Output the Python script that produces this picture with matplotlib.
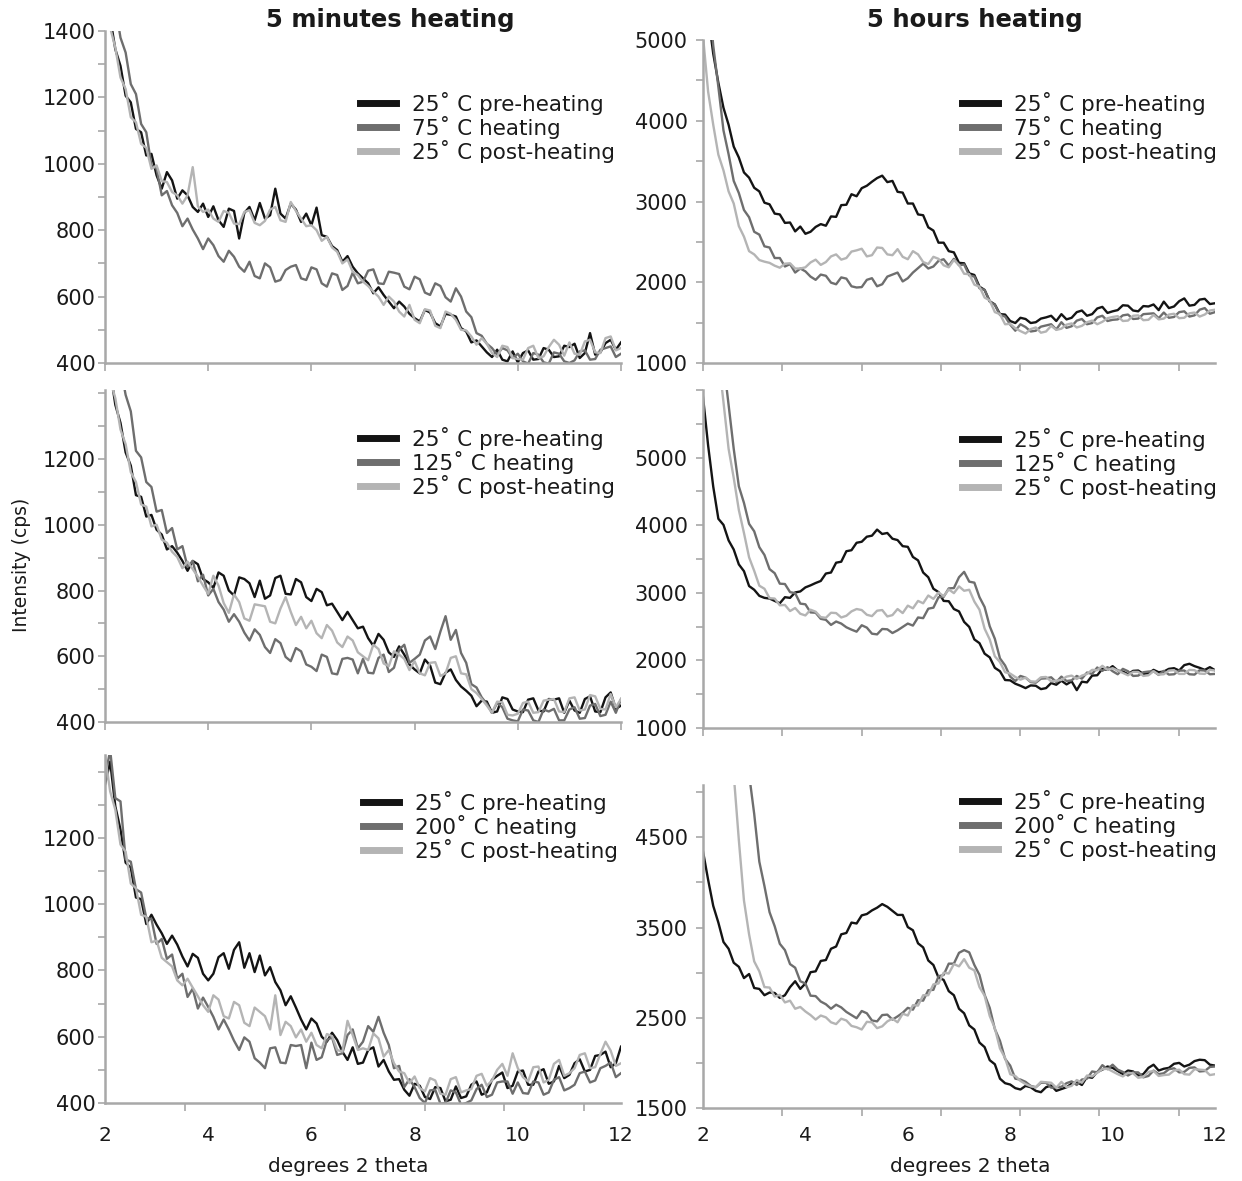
import matplotlib.pyplot as plt
import numpy as np

plt.rcParams['font.family'] = ['DejaVu Sans']

# scan positions (degrees 2 theta), 0.1 step
two_theta = np.linspace(2, 12, 101)

heat_temps = [75, 125, 200]
line_colors = ['#141414', '#6e6e6e', '#b4b4b4']

# ---- 5 minutes heating ----
min5_75_pre = [
    1560, 1440, 1345, 1295, 1205, 1185, 1105, 1095, 1025, 1030,
    965, 925, 975, 950, 895, 920, 905, 870, 855, 880,
    840, 872, 830, 810, 865, 858, 775, 852, 870, 830,
    882, 835, 845, 925, 850, 835, 880, 862, 825, 850,
    815, 868, 785, 780, 752, 740, 705, 722, 690, 670,
    655, 640, 610, 628, 605, 585, 565, 585, 570, 548,
    535, 525, 560, 552, 520, 510, 548, 545, 540, 505,
    495, 462, 468, 450, 432, 418, 440, 410, 405, 435,
    402, 430, 438, 410, 412, 445, 440, 418, 420, 452,
    448, 458, 415, 430, 490, 425, 432, 460, 470, 440,
    462]
min5_75_heat = [
    1650, 1545, 1475, 1380, 1335, 1240, 1210, 1120, 1095, 995,
    985, 905, 918, 875, 852, 812, 835, 802, 775, 743,
    775, 755, 722, 705, 738, 720, 690, 675, 705, 662,
    655, 700, 688, 645, 650, 680, 690, 695, 655, 650,
    688, 682, 640, 630, 670, 665, 620, 632, 672, 640,
    645, 678, 682, 640, 638, 675, 672, 668, 630, 622,
    660, 652, 612, 605, 640, 632, 598, 585, 625, 600,
    555, 538, 490, 482, 458, 445, 425, 445, 438, 415,
    428, 405, 398, 430, 425, 402, 398, 432, 428, 405,
    400, 408, 435, 438, 410, 412, 440, 445, 450, 418,
    428]
min5_75_post = [
    1520, 1410, 1350, 1260, 1225, 1140, 1125, 1060, 1048, 985,
    995, 948, 945, 915, 905, 880, 905, 990, 872, 855,
    862, 835, 825, 858, 852, 820, 818, 855, 860, 822,
    815, 828, 862, 870, 830, 825, 885, 858, 835, 812,
    815, 800, 768, 780, 748, 735, 700, 712, 675, 665,
    645, 632, 615, 600, 575, 600, 585, 555, 540, 575,
    530, 520, 562, 558, 512, 505, 555, 548, 530, 500,
    498, 480, 455, 475, 458, 430, 418, 452, 448, 415,
    412, 410, 445, 452, 415, 420, 448, 470, 455, 422,
    462, 428, 425, 465, 470, 432, 430, 475, 480, 438,
    445]

min5_125_pre = [
    1560, 1470, 1365, 1310, 1220, 1180, 1090, 1085, 1025, 1030,
    985, 970, 925, 935, 915, 890, 860, 890, 880, 835,
    825, 808, 855, 845, 800, 785, 840, 835, 822, 780,
    830, 775, 785, 838, 845, 790, 788, 835, 825, 780,
    768, 805, 795, 755, 760, 735, 710, 735, 710, 685,
    690, 655, 632, 668, 650, 612, 598, 630, 605, 575,
    560, 548, 590, 572, 520, 515, 550, 560, 528, 508,
    495, 480, 448, 465, 462, 428, 432, 475, 470, 438,
    432, 430, 468, 472, 435, 432, 470, 468, 472, 428,
    465, 435, 428, 470, 478, 432, 430, 475, 490, 440,
    450]
min5_125_heat = [
    1700, 1630, 1530, 1480, 1395, 1345, 1225, 1205, 1130, 1115,
    1040, 1045, 975, 990, 925, 935, 872, 890, 828, 848,
    785, 805, 765, 742, 705, 728, 705, 672, 648, 682,
    665, 628, 610, 652, 640, 598, 585, 625, 615, 575,
    568, 555, 605, 598, 548, 545, 592, 595, 590, 548,
    592, 550, 548, 595, 605, 552, 565, 620, 635, 580,
    592, 605, 648, 660, 622, 675, 722, 650, 680, 610,
    580, 515, 505, 475, 455, 428, 458, 445, 410, 405,
    402, 438, 435, 405, 400, 438, 432, 440, 405, 405,
    438, 445, 410, 412, 450, 455, 418, 422, 462, 428,
    470]
min5_125_post = [
    1540, 1440, 1385, 1290, 1245, 1160, 1130, 1062, 1055, 995,
    1000, 955, 945, 918, 902, 868, 888, 865, 842, 815,
    790, 845, 815, 762, 732, 788, 765, 715, 708, 758,
    755, 752, 705, 700, 745, 780, 735, 695, 720, 685,
    708, 670, 655, 695, 678, 642, 628, 660, 648, 612,
    600, 588, 635, 622, 578, 570, 615, 605, 592, 558,
    585, 548, 542, 580, 582, 540, 548, 595, 600, 548,
    545, 500, 488, 470, 450, 428, 462, 460, 422, 420,
    425, 458, 462, 428, 430, 465, 468, 470, 432, 430,
    472, 475, 435, 438, 482, 478, 440, 438, 485, 445,
    470]

min5_200_pre = [
    1360, 1430, 1295, 1225, 1125, 1110, 1020, 1015, 940, 968,
    938, 912, 880, 905, 878, 842, 812, 850, 838, 790,
    770, 790, 840, 852, 805, 862, 885, 808, 852, 795,
    845, 785, 810, 765, 740, 695, 722, 688, 652, 622,
    655, 640, 600, 585, 612, 590, 555, 530, 568, 518,
    522, 560, 568, 510, 530, 495, 470, 472, 440, 422,
    458, 452, 418, 412, 448, 445, 405, 410, 450, 415,
    420, 455, 465, 425, 432, 470, 482, 492, 445, 452,
    495, 498, 455, 455, 495, 502, 458, 465, 512, 475,
    485, 520, 532, 495, 500, 542, 545, 555, 508, 520,
    570]
min5_200_heat = [
    1380, 1465, 1320, 1310, 1135, 1128, 1045, 1035, 958, 955,
    880, 895, 835, 848, 775, 790, 720, 745, 685, 718,
    690, 660, 622, 652, 622, 588, 560, 598, 585, 535,
    522, 505, 565, 568, 522, 520, 575, 572, 575, 505,
    582, 530, 538, 590, 598, 545, 550, 605, 622, 565,
    585, 632, 615, 660, 612, 575, 505, 512, 448, 472,
    448, 415, 400, 438, 440, 398, 400, 438, 432, 395,
    400, 408, 442, 455, 418, 425, 462, 465, 465, 428,
    462, 430, 428, 465, 462, 425, 432, 470, 478, 438,
    445, 455, 490, 495, 462, 468, 505, 512, 522, 478,
    490]
min5_200_post = [
    1450, 1340, 1285, 1180, 1158, 1062, 1048, 968, 962, 885,
    890, 838, 825, 812, 770, 755, 775, 748, 722, 695,
    675, 725, 712, 662, 655, 705, 695, 642, 632, 688,
    675, 662, 622, 725, 605, 645, 632, 598, 622, 585,
    612, 575, 565, 608, 602, 560, 555, 648, 605, 560,
    565, 560, 610, 595, 540, 560, 520, 495, 490, 460,
    480, 445, 435, 475, 468, 428, 425, 472, 478, 432,
    438, 442, 482, 488, 452, 468, 500, 518, 482, 550,
    505, 478, 465, 508, 510, 462, 470, 518, 530, 482,
    490, 505, 545, 550, 505, 508, 548, 585, 558, 512,
    520]

# ---- 5 hours heating ----
hr5_75_pre = [
    6200, 5320, 4830, 4470, 4160, 3950, 3680, 3545, 3360, 3295,
    3170, 3125, 2985, 2965, 2850, 2840, 2735, 2740, 2630, 2690,
    2600, 2625, 2685, 2720, 2700, 2815, 2810, 2955, 2960, 3090,
    3065, 3165, 3195, 3245, 3290, 3320, 3240, 3255, 3120, 3110,
    2975, 2975, 2840, 2830, 2680, 2640, 2490, 2490, 2385, 2370,
    2240, 2235, 2110, 2090, 1945, 1905, 1765, 1725, 1605, 1600,
    1520, 1495, 1560, 1545, 1495, 1505, 1550, 1565, 1585, 1520,
    1605, 1540, 1560, 1630, 1650, 1585, 1605, 1675, 1695, 1620,
    1640, 1655, 1715, 1710, 1650, 1640, 1705, 1700, 1725, 1655,
    1760, 1680, 1700, 1765, 1800, 1710, 1720, 1785, 1795, 1730,
    1740]
hr5_75_heat = [
    6500, 5620, 4930, 4420, 3880, 3585, 3255, 3105, 2895, 2805,
    2625, 2590, 2445, 2430, 2300, 2300, 2195, 2225, 2120, 2170,
    2135, 2070, 2030, 2095, 2080, 1995, 1975, 2060, 2045, 1950,
    1935, 1940, 2030, 2050, 1950, 1975, 2070, 2095, 2120, 2010,
    2050, 2120, 2175, 2230, 2170, 2195, 2265, 2285, 2205, 2290,
    2210, 2220, 2085, 2070, 1925, 1905, 1760, 1720, 1595, 1575,
    1475, 1400, 1480, 1445, 1390, 1400, 1450, 1465, 1480, 1415,
    1505, 1435, 1455, 1525, 1545, 1480, 1495, 1565, 1585, 1520,
    1535, 1540, 1590, 1600, 1545, 1550, 1605, 1610, 1615, 1555,
    1625, 1560, 1570, 1630, 1640, 1575, 1590, 1660, 1680, 1610,
    1630]
hr5_75_post = [
    5050, 4360, 3950, 3580, 3385, 3125, 2975, 2695, 2565, 2385,
    2345, 2275, 2255, 2240, 2205, 2180, 2230, 2235, 2170, 2170,
    2185, 2245, 2280, 2215, 2250, 2320, 2345, 2280, 2300, 2380,
    2395, 2415, 2320, 2335, 2430, 2425, 2345, 2335, 2410, 2315,
    2285, 2385, 2345, 2250, 2225, 2315, 2290, 2210, 2185, 2275,
    2215, 2105, 2100, 1970, 1945, 1810, 1775, 1630, 1605, 1480,
    1485, 1430, 1395, 1365, 1420, 1440, 1375, 1390, 1460, 1410,
    1425, 1475, 1490, 1440, 1460, 1505, 1525, 1480, 1510, 1555,
    1570, 1580, 1520, 1525, 1585, 1590, 1530, 1535, 1595, 1540,
    1550, 1600, 1610, 1555, 1560, 1615, 1625, 1575, 1600, 1650,
    1660]

hr5_125_pre = [
    5900, 5180, 4570, 4095, 4005, 3775, 3640, 3420, 3320, 3100,
    3045, 2955, 2925, 2915, 2880, 2845, 2935, 2925, 3005, 3020,
    3080, 3110, 3145, 3175, 3285, 3300, 3445, 3460, 3615, 3630,
    3740, 3755, 3830, 3845, 3935, 3870, 3885, 3800, 3780, 3690,
    3680, 3530, 3480, 3300, 3230, 3060, 3010, 2880, 2875, 2760,
    2725, 2570, 2495, 2310, 2255, 2100, 2045, 1890, 1840, 1710,
    1705, 1655, 1625, 1590, 1630, 1625, 1575, 1590, 1665, 1640,
    1700, 1645, 1690, 1560, 1685, 1675, 1775, 1780, 1875, 1860,
    1915, 1850, 1835, 1795, 1845, 1850, 1800, 1810, 1860, 1825,
    1835, 1875, 1885, 1850, 1930, 1950, 1915, 1890, 1860, 1900,
    1855]
hr5_125_heat = [
    9500, 8700, 7900, 7100, 6420, 5780, 5130, 4575, 4330, 4020,
    3910, 3675, 3560, 3350, 3290, 3135, 3130, 3010, 2995, 2840,
    2830, 2710, 2705, 2615, 2600, 2525, 2575, 2545, 2490, 2455,
    2425, 2520, 2485, 2395, 2385, 2465, 2460, 2405, 2445, 2495,
    2545, 2515, 2635, 2625, 2765, 2780, 2935, 2940, 3065, 3070,
    3230, 3310, 3165, 3150, 2935, 2790, 2505, 2320, 2030, 1925,
    1760, 1695, 1770, 1745, 1680, 1670, 1730, 1735, 1750, 1680,
    1760, 1695, 1705, 1770, 1730, 1820, 1800, 1895, 1845, 1900,
    1840, 1795, 1875, 1840, 1770, 1775, 1825, 1835, 1840, 1785,
    1845, 1790, 1795, 1850, 1850, 1795, 1790, 1855, 1850, 1795,
    1800]
hr5_125_post = [
    9000, 8200, 7400, 6500, 5820, 5130, 4700, 4225, 3885, 3525,
    3325, 3105, 3060, 2920, 2915, 2815, 2820, 2730, 2775, 2690,
    2665, 2750, 2720, 2640, 2630, 2705, 2700, 2635, 2660, 2725,
    2760, 2745, 2675, 2655, 2735, 2745, 2650, 2670, 2760, 2700,
    2810, 2770, 2880, 2845, 2960, 2910, 3005, 2950, 3050, 2995,
    3095, 3030, 3045, 2870, 2750, 2470, 2310, 2060, 1975, 1825,
    1805, 1755, 1715, 1745, 1690, 1685, 1750, 1755, 1690, 1700,
    1710, 1760, 1775, 1725, 1775, 1800, 1860, 1855, 1920, 1860,
    1885, 1850, 1815, 1780, 1830, 1830, 1770, 1780, 1840, 1790,
    1795, 1850, 1855, 1800, 1800, 1860, 1855, 1805, 1800, 1860,
    1850]

hr5_200_pre = [
    4344, 4030, 3740, 3555, 3340, 3265, 3110, 3065, 2940, 2985,
    2830, 2820, 2750, 2780, 2775, 2720, 2750, 2840, 2905, 2820,
    2880, 3005, 3015, 3130, 3140, 3265, 3290, 3425, 3440, 3555,
    3545, 3635, 3650, 3690, 3720, 3760, 3730, 3685, 3640, 3640,
    3505, 3470, 3325, 3280, 3135, 3085, 2945, 2920, 2795, 2750,
    2600, 2550, 2415, 2370, 2225, 2175, 2030, 1985, 1825, 1775,
    1760, 1720, 1705, 1745, 1730, 1690, 1675, 1730, 1750, 1690,
    1710, 1730, 1770, 1790, 1755, 1845, 1835, 1900, 1925, 1960,
    1945, 1910, 1875, 1915, 1905, 1860, 1875, 1945, 1980, 1915,
    1935, 1945, 1990, 2000, 1960, 1980, 2020, 2035, 2030, 1980,
    1970]
hr5_200_heat = [
    12000, 11000, 10000, 9100, 8300, 7500, 6800, 6200, 5650, 5200,
    4760, 4230, 3960, 3670, 3515, 3320, 3250, 3095, 3055, 2905,
    2880, 2745, 2740, 2680, 2650, 2600, 2645, 2615, 2565, 2530,
    2495, 2575, 2550, 2470, 2460, 2530, 2535, 2480, 2515, 2555,
    2610, 2590, 2695, 2690, 2805, 2810, 2960, 2975, 3100, 3100,
    3220, 3250, 3225, 3085, 2975, 2755, 2610, 2375, 2245, 2045,
    1970, 1825, 1815, 1790, 1745, 1730, 1780, 1780, 1725, 1730,
    1735, 1775, 1795, 1755, 1815, 1825, 1905, 1895, 1975, 1930,
    1980, 1925, 1900, 1860, 1895, 1895, 1840, 1855, 1915, 1875,
    1885, 1930, 1940, 1895, 1900, 1945, 1950, 1905, 1910, 1955,
    1960]
hr5_200_post = [
    10500, 9500, 8600, 7800, 7000, 6200, 5200, 4470, 3800, 3425,
    3125, 3015, 2840, 2835, 2735, 2755, 2670, 2690, 2600, 2620,
    2570, 2530, 2480, 2525, 2505, 2450, 2430, 2490, 2470, 2410,
    2395, 2370, 2455, 2450, 2385, 2405, 2460, 2490, 2450, 2545,
    2525, 2640, 2635, 2750, 2750, 2870, 2880, 3000, 2990, 3095,
    3070, 3150, 3055, 3025, 2840, 2745, 2520, 2385, 2160, 2055,
    1875, 1855, 1800, 1765, 1740, 1730, 1790, 1785, 1780, 1725,
    1790, 1730, 1745, 1810, 1780, 1860, 1850, 1890, 1930, 1935,
    1905, 1875, 1850, 1890, 1885, 1835, 1845, 1900, 1910, 1855,
    1865, 1870, 1915, 1925, 1875, 1870, 1930, 1925, 1920, 1865,
    1875]

minutes_data = [
    (min5_75_pre, min5_75_heat, min5_75_post),
    (min5_125_pre, min5_125_heat, min5_125_post),
    (min5_200_pre, min5_200_heat, min5_200_post),
]
hours_data = [
    (hr5_75_pre, hr5_75_heat, hr5_75_post),
    (hr5_125_pre, hr5_125_heat, hr5_125_post),
    (hr5_200_pre, hr5_200_heat, hr5_200_post),
]

W, H = 1242, 1181
fig = plt.figure(figsize=(W / 100, H / 100), dpi=100)

# pixel boxes (left, top, right, bottom) of each panel
boxes = [
    [(105, 31, 621, 363), (703, 40, 1215, 363)],
    [(105, 390, 621, 722), (703, 390, 1215, 728)],
    [(105, 755, 621, 1103), (703, 785, 1215, 1108)],
]
ylims = [[(400, 1400), (1000, 5000)],
         [(400, 1410), (1000, 6000)],
         [(400, 1450), (1500, 5080)]]
ylabels_at = [[range(400, 1401, 200), range(1000, 5001, 1000)],
              [range(400, 1201, 200), range(1000, 5001, 1000)],
              [range(400, 1201, 200), range(1500, 4501, 1000)]]
ymarks_at = [[range(400, 1401, 100), range(1000, 5001, 500)],
             [range(400, 1401, 100), range(1000, 6001, 500)],
             [range(400, 1401, 100), range(1500, 5001, 500)]]
legend_at = [[(360, 92), (962, 92)],
             [(360, 427), (962, 428)],
             [(363, 791), (962, 790)]]

spine_col = '#a8a8a8'
text_col = '#1a1a1a'


def style_axes(ax, row, col):
    for s in ['top', 'right']:
        ax.spines[s].set_visible(False)
    for s in ['left', 'bottom']:
        ax.spines[s].set_color(spine_col)
        ax.spines[s].set_linewidth(1.8)
    ax.set_xlim(2, 12)
    ax.set_ylim(*ylims[row][col])

    major_y = list(ylabels_at[row][col])
    ax.set_yticks(major_y)
    ax.set_yticklabels([str(v) for v in major_y])
    ax.set_yticks([v for v in ymarks_at[row][col] if v not in major_y], minor=True)
    ax.tick_params(axis='y', which='both', direction='out', length=5, width=1.2,
                   color=spine_col, labelsize=15, labelcolor=text_col,
                   pad=2 if col == 0 else 6)

    if col == 0 and row < 2:
        ax.set_xticks(range(2, 13, 2))
        ax.set_xticklabels([])
        ax.tick_params(axis='x', direction='out', length=6, width=1.2, color=spine_col)
    else:
        ax.set_xticks(2 + 1.548 * np.arange(7), minor=True)
        ax.tick_params(axis='x', which='minor', direction='out', length=6, width=1.2,
                       color=spine_col)
        if row == 2:
            ax.set_xticks(range(2, 13, 2))
            ax.set_xticklabels([str(v) for v in range(2, 13, 2)])
            ax.tick_params(axis='x', which='major', length=0, labelsize=14.5,
                           labelcolor=text_col, pad=16.5 if col == 0 else 13)
        else:
            ax.set_xticks([])


for row in range(3):
    for col in range(2):
        l, t, r, b = boxes[row][col]
        ax = fig.add_axes([l / W, 1 - b / H, (r - l) / W, (b - t) / H])
        style_axes(ax, row, col)
        data = minutes_data[row] if col == 0 else hours_data[row]
        labels = ['25\u02da C pre-heating', '%d\u02da C heating' % heat_temps[row],
                  '25\u02da C post-heating']
        for y, c, lab in zip(data, line_colors, labels):
            assert len(y) == len(two_theta)
            ax.plot(two_theta, y, color=c, lw=1.7, label=lab)
        hx, hy = legend_at[row][col]
        leg = ax.legend(loc='upper left',
                        bbox_to_anchor=((hx - l) / (r - l), (b - hy) / (b - t)),
                        frameon=False, fontsize=15.5, handlelength=1.65,
                        handletextpad=0.75, labelspacing=0.04, borderpad=0,
                        borderaxespad=0)
        for h in leg.legend_handles:
            h.set_linewidth(5)
        for txt in leg.get_texts():
            txt.set_color(text_col)

fig.text(390 / W, 1 - 20 / H, '5 minutes heating', ha='center', va='center',
         fontsize=17.5, fontweight='bold', color=text_col)
fig.text(975 / W, 1 - 20 / H, '5 hours heating', ha='center', va='center',
         fontsize=17.5, fontweight='bold', color=text_col)
fig.text(22 / W, 1 - 565 / H, 'Intensity (cps)', rotation=90, ha='center',
         va='center', fontsize=13.5, color=text_col)
fig.text(348 / W, 1 - 1167 / H, 'degrees 2 theta', ha='center', va='center',
         fontsize=14.5, color=text_col)
fig.text(970 / W, 1 - 1167 / H, 'degrees 2 theta', ha='center', va='center',
         fontsize=14.5, color=text_col)

fig.savefig('out.png', dpi=100)
